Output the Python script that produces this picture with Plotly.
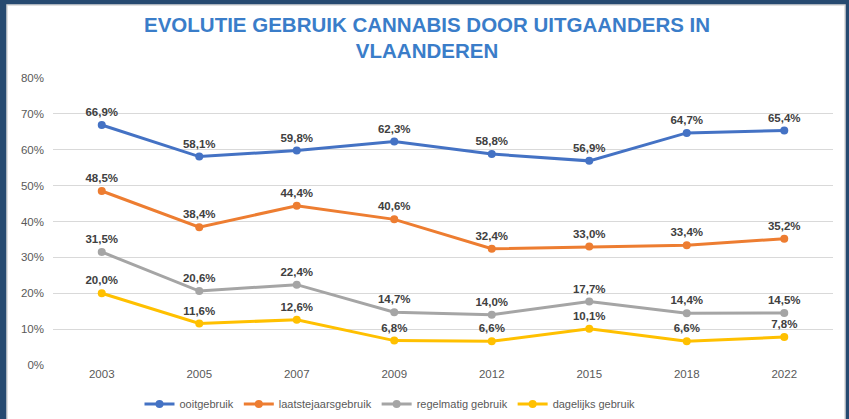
import plotly.graph_objects as go

years = ["2003", "2005", "2007", "2009", "2012", "2015", "2018", "2022"]
ooitgebruik = [66.9, 58.1, 59.8, 62.3, 58.8, 56.9, 64.7, 65.4]
laatstejaars = [48.5, 38.4, 44.4, 40.6, 32.4, 33.0, 33.4, 35.2]
regelmatig = [31.5, 20.6, 22.4, 14.7, 14.0, 17.7, 14.4, 14.5]
dagelijks = [20.0, 11.6, 12.6, 6.8, 6.6, 10.1, 6.6, 7.8]
series_names = ["ooitgebruik", "laatstejaarsgebruik", "regelmatig gebruik", "dagelijks gebruik"]
colors = ["#4472C4", "#ED7D31", "#A5A5A5", "#FFC000"]
y_ticks = [0, 10, 20, 30, 40, 50, 60, 70, 80]

FONT = "Liberation Sans, Arial"

def fmt(v):
    return f"{v:.1f}".replace(".", ",") + "%"

fig = go.Figure()
for name, vals, col in zip(series_names, [ooitgebruik, laatstejaars, regelmatig, dagelijks], colors):
    fig.add_trace(go.Scatter(
        x=years, y=vals, name=name, mode="lines+markers+text",
        line=dict(color=col, width=3),
        marker=dict(color=col, size=8),
        text=[fmt(v) for v in vals],
        textposition="top center",
        textfont=dict(family=FONT, size=11.5, color="#404040", weight="bold"),
        cliponaxis=False,
    ))

# plot area in pixels: x 53..833, y 78..365
L, R, T, B = 53, 16, 78, 54
W, H = 849, 419
pw, ph = W - L - R, H - T - B

fig.update_layout(
    width=W, height=H,
    margin=dict(l=L, r=R, t=T, b=B, autoexpand=False),
    paper_bgcolor="#264a70",
    plot_bgcolor="white",
    title=dict(
        text="<b>EVOLUTIE GEBRUIK CANNABIS DOOR UITGAANDERS IN<br>VLAANDEREN</b>",
        x=0.503, xanchor="center", xref="container",
        y=1 - 31.5 / H, yanchor="middle", yref="container",
        font=dict(family=FONT, size=20.5, color="#3A7DC9"),
    ),
    showlegend=True,
    legend=dict(
        orientation="h", x=(390 - L) / pw, xanchor="center",
        y=(H - 404) / H, yref="container", yanchor="middle",
        font=dict(family=FONT, size=11, color="#595959"),
        bgcolor="rgba(0,0,0,0)", itemwidth=30, tracegroupgap=0,
    ),
    shapes=[dict(
        type="rect", xref="paper", yref="paper",
        x0=(7 - L) / pw, x1=(845 - L) / pw,
        y0=(T + ph - H - 5) / ph, y1=(T + ph - 5) / ph,
        fillcolor="white", line=dict(color="#d8d8d8", width=1.5), layer="below",
    )],
    xaxis=dict(
        type="category", range=[-0.5, 7.5], showgrid=False, automargin=False,
        showline=False, ticks="",
        tickfont=dict(family=FONT, size=11.5, color="#595959"),
    ),
    yaxis=dict(
        range=[0, 80], tickvals=y_ticks, ticktext=[f"{v}%" for v in y_ticks],
        showgrid=True, gridcolor="#d9d9d9", gridwidth=1, zeroline=False,
        showline=False, ticks="", automargin=False, ticklabelstandoff=8,
        tickfont=dict(family=FONT, size=11.5, color="#595959"),
    ),
)

fig.write_html("out.html", config={"displayModeBar": False},
               post_script="document.body.style.margin='0';")
